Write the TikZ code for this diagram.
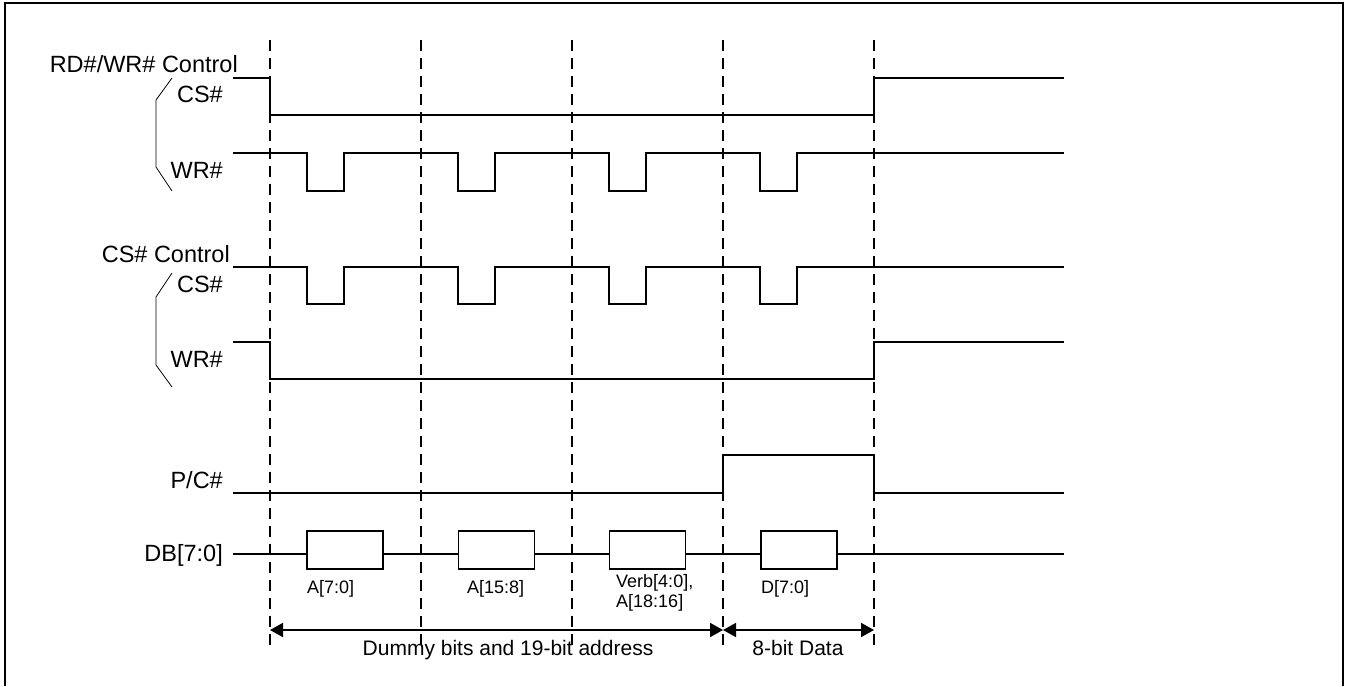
\documentclass[tikz,border=0pt]{standalone}
\usepackage{fontspec}
\setmainfont{Liberation Sans}
\usetikzlibrary{arrows.meta}
\begin{document}
\begin{tikzpicture}[x=1pt,y=-1pt,
  sig/.style={line width=1.8pt},
  gridline/.style={line width=1.8pt, dash pattern=on 11pt off 7pt},
  bracket/.style={line width=0.8pt},
  lbl/.style={font=\fontsize{23.5}{28}\selectfont, inner sep=0pt, anchor=base east},
  sm/.style={font=\fontsize{18}{20}\selectfont, inner sep=0pt, anchor=base west},
  dimtxt/.style={font=\fontsize{21}{24}\selectfont, inner sep=0pt, anchor=base},
  dim/.style={line width=1.8pt, {Triangle[length=13pt,width=14pt]}-{Triangle[length=13pt,width=14pt]}},
  databox/.style={draw, line width=1.8pt, minimum width=76pt, minimum height=38pt, inner sep=0pt}
]
\useasboundingbox (0,0) rectangle (1348,686);
\draw[line width=2pt] (5,686) -- (5,3) -- (1343,3) -- (1343,686);

% dashed timing lines
\foreach \x in {270,421,572,723,874}
  \draw[gridline] (\x,40) -- (\x,652);

% labels
\node[lbl] (rdwr) at (238,72) {RD\#/WR\# Control};
\node[lbl] (cs1) at (223,102) {CS\#};
\node[lbl] (wr1) at (223,178) {WR\#};
\node[lbl] (csc) at (230,262) {CS\# Control};
\node[lbl] (cs2) at (223,292) {CS\#};
\node[lbl] (wr2) at (223,367) {WR\#};
\node[lbl] (pc) at (223,488) {P/C\#};
\node[lbl] (db) at (223,561) {DB[7:0]};

% brackets
\draw[bracket] (172,78) -- (156,100) -- (156,167) -- (172,191);
\draw[bracket] (172,273) -- (156,297) -- (156,365) -- (172,387);

% RD#/WR# control
\draw[sig] (233,78) -- (270,78) -- (270,115) -- (874,115) -- (874,78) -- (1064,78);
\draw[sig] (233,153) -- (307,153) -- (307,191) -- (344,191) -- (344,153)
  -- (458,153) -- (458,191) -- (495,191) -- (495,153)
  -- (609,153) -- (609,191) -- (646,191) -- (646,153)
  -- (760,153) -- (760,191) -- (797,191) -- (797,153) -- (1064,153);

% CS# control
\draw[sig] (233,267) -- (307,267) -- (307,304) -- (344,304) -- (344,267)
  -- (458,267) -- (458,304) -- (495,304) -- (495,267)
  -- (609,267) -- (609,304) -- (646,304) -- (646,267)
  -- (760,267) -- (760,304) -- (797,304) -- (797,267) -- (1064,267);
\draw[sig] (233,342) -- (270,342) -- (270,379) -- (874,379) -- (874,342) -- (1064,342);

% P/C#
\draw[sig] (233,493) -- (723,493) -- (723,455) -- (874,455) -- (874,493) -- (1064,493);

% DB[7:0]
\node[databox] (b1) at (345,549.7) {};
\node[databox] (b2) at (496.5,549.7) {};
\node[databox] (b3) at (647.5,549.7) {};
\node[databox] (b4) at (799,549.7) {};
\draw[sig] (233,554) -- (b1.west |- 0,554);
\draw[sig] (b1.east |- 0,554) -- (b2.west |- 0,554);
\draw[sig] (b2.east |- 0,554) -- (b3.west |- 0,554);
\draw[sig] (b3.east |- 0,554) -- (b4.west |- 0,554);
\draw[sig] (b4.east |- 0,554) -- (1064,554);

\node[sm] (la) at (307,593) {A[7:0]};
\node[sm] (lb) at (467,593) {A[15:8]};
\node[sm] (lc1) at (616,587) {Verb[4:0],};
\node[sm] (lc2) at (616,607) {A[18:16]};
\node[sm] (ld) at (761,593) {D[7:0]};

% dimension arrows
\coordinate (d0) at (270,630);
\coordinate (d1) at (723,630);
\coordinate (d2) at (874,630);
\draw[dim] (d0) -- (d1);
\draw[dim] (d1) -- (d2);
\node[dimtxt] (t1) at (508,655) {Dummy bits and 19-bit address};
\node[dimtxt] (t2) at (798,655) {8-bit Data};
\end{tikzpicture}
\end{document}
